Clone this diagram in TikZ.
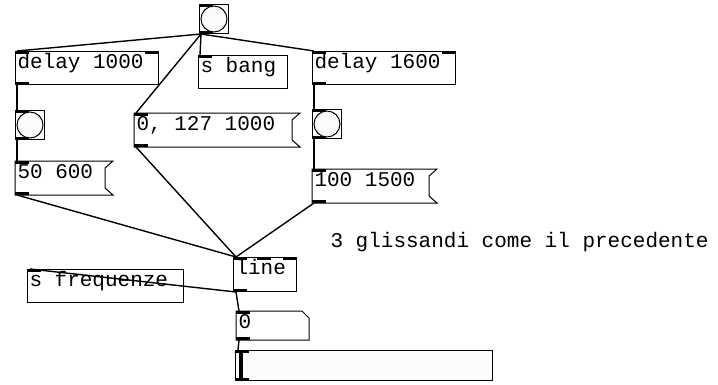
\documentclass[tikz,border=0pt]{standalone}
\usepackage{fontspec}
\newfontfamily\pdmono[WordSpace={1,0,0}]{Liberation Mono}
\newcommand{\pdfont}{\pdmono\fontsize{21}{21}\selectfont}
% inlet / outlet marks
\newcommand{\pdin}[1]{\fill (#1.north west) rectangle ++(14,3);}
\newcommand{\pdinr}[1]{\fill (#1.north east) rectangle ++(-14,3);}
\newcommand{\pdout}[1]{\fill (#1.south west) rectangle ++(14,-3);}
\newcommand{\msgframe}[1]{\draw (#1.north west) -- (#1.north east) -- ++(-8,7) -- ([xshift=-8pt,yshift=7pt]#1.south east) -- (#1.south east) -- (#1.south west) -- cycle;}
\newcommand{\bngcircle}[1]{\draw[fill=gray!3] (#1.center) circle (13);}
\begin{document}
\begin{tikzpicture}[x=1pt, y=-1pt, line width=1pt,
  pdobj/.style 2 args={draw, fill=white, anchor=north west, inner xsep=2pt, inner ysep=0pt,
    align=left, text width=#1, text height=17pt, text depth=#2, font=\pdfont,
    execute at begin node={\spaceskip=\fontdimen2\font\relax}},
  pdmsg/.style 2 args={pdobj={#1}{#2}, draw=none, fill=none},
  bng/.style={draw, fill=white, anchor=north west, inner sep=0pt, minimum size=#1},
  wire/.style={line width=1.4pt}]
\useasboundingbox (0,0) rectangle (718,384);

% top bang and the two delays
\node[bng=29pt] (bang) at (199,4) {};
\bngcircle{bang}
\pdin{bang} \pdout{bang}
\node[pdobj={139pt}{16pt}] (del1) at (15,51) {delay 1000};
\pdin{del1} \pdinr{del1} \pdout{del1}
\node[pdobj={85pt}{16pt}] (sbang) at (198,55) {s bang};
\pdin{sbang}
\node[pdobj={139pt}{16pt}] (del2) at (312,51) {delay 1600};
\pdin{del2} \pdinr{del2} \pdout{del2}

% second row
\node[bng=29pt] (bng1) at (15,110) {};
\bngcircle{bng1}
\pdin{bng1} \pdout{bng1}
\node[pdmsg={161pt}{16pt}] (msg0) at (134,113) {0, 127 1000};
\msgframe{msg0}
\pdin{msg0} \pdout{msg0}
\node[bng=29pt] (bng2) at (312,109) {};
\bngcircle{bng2}
\pdin{bng2} \pdout{bng2}

% glissandi messages
\node[pdmsg={93pt}{16pt}] (msg1) at (15,161) {50 600};
\msgframe{msg1}
\pdin{msg1} \pdout{msg1}
\node[pdmsg={120pt}{16pt}] (msg2) at (312,169) {100 1500};
\msgframe{msg2}
\pdin{msg2} \pdout{msg2}

\node[font=\pdfont, anchor=base west, inner sep=0pt] (cmt) at (330,247) {3 glissandi come il precedente};

% line, send, number and slider
\node[pdobj={59pt}{17pt}] (line) at (233,257) {line};
\pdin{line} \pdinr{line} \pdout{line}
\fill ([xshift=24pt]line.north west) rectangle ++(14,3);
\node[pdobj={152pt}{16pt}] (sfreq) at (27,269) {s frequenze};
\pdin{sfreq}
\node[pdobj={68pt}{11pt}, draw=none, fill=none] (num) at (236,311) {0};
\draw (num.north west) -- ([xshift=-7pt]num.north east) -- ([yshift=-7pt]num.north east) -- (num.south east) -- (num.south west) -- cycle;
\pdin{num} \pdout{num}
\node[draw, fill=gray!3, anchor=north west, inner sep=0pt, minimum width=257pt, minimum height=30pt] (hsl) at (235,350) {};
\draw[line width=4pt] ([xshift=6pt]hsl.north west) -- ([xshift=6pt]hsl.south west);
\pdin{hsl} \pdout{hsl}

% connections
\draw[wire] ([xshift=2pt]bang.south west) -- ([xshift=2pt]del1.north west);
\draw[wire] ([xshift=2pt]bang.south west) -- ([xshift=2pt]sbang.north west);
\draw[wire] ([xshift=2pt]bang.south west) -- ([xshift=2pt]del2.north west);
\draw[wire] ([xshift=2pt]bang.south west) -- ([xshift=2pt]msg0.north west);
\draw[wire] ([xshift=2pt]del1.south west) -- ([xshift=2pt]bng1.north west);
\draw[wire] ([xshift=2pt]bng1.south west) -- ([xshift=2pt]msg1.north west);
\draw[wire] ([xshift=2pt]del2.south west) -- ([xshift=2pt]bng2.north west);
\draw[wire] ([xshift=2pt]bng2.south west) -- ([xshift=2pt]msg2.north west);
\draw[wire] ([xshift=2pt]msg1.south west) -- ([xshift=3pt]line.north west);
\draw[wire] ([xshift=2pt]msg0.south west) -- ([xshift=3pt]line.north west);
\draw[wire] ([xshift=2pt]msg2.south west) -- ([xshift=3pt]line.north west);
\draw[wire] ([xshift=3pt]line.south west) -- ([xshift=3pt]sfreq.north west);
\draw[wire] ([xshift=3pt]line.south west) -- ([xshift=3pt]num.north west);
\draw[wire] ([xshift=3pt]num.south west) -- ([xshift=3pt]hsl.north west);
\end{tikzpicture}
\end{document}
